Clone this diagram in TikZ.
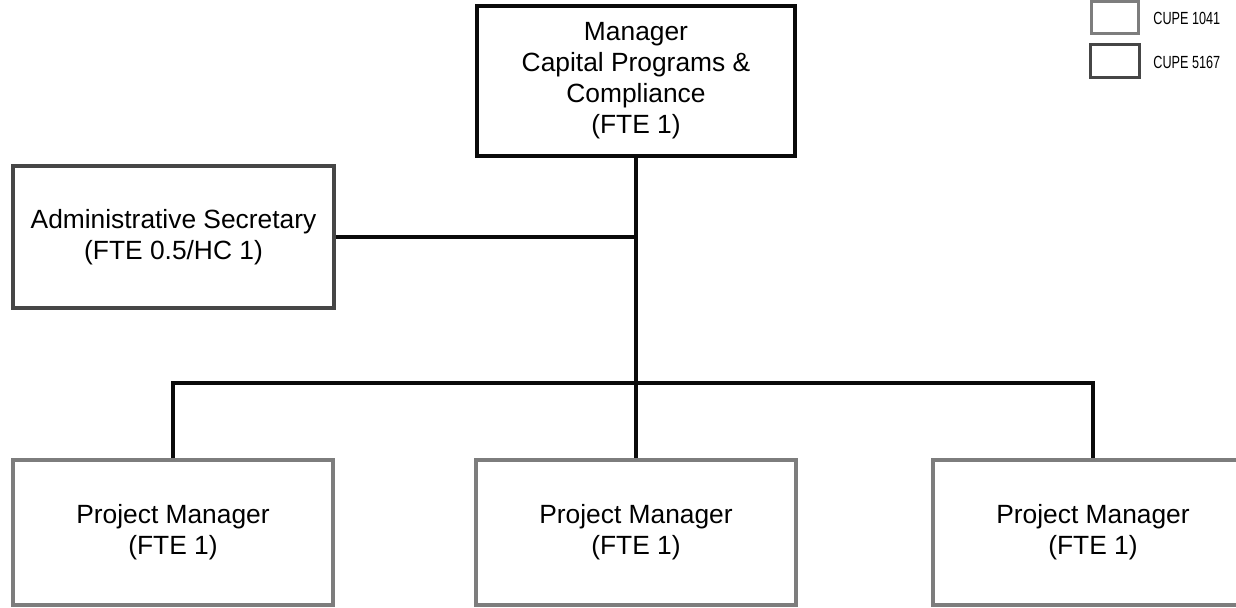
\documentclass[tikz,border=0pt]{standalone}
\usepackage{fontspec}
\setmainfont{Liberation Sans}
\newfontfamily\narrowfont[FakeStretch=0.72]{Liberation Sans}
\usetikzlibrary{positioning}
\definecolor{cupe-a}{RGB}{125,125,125}
\definecolor{cupe-b}{RGB}{70,70,70}
\definecolor{line-draw}{RGB}{10,10,10}

\begin{document}
\begin{tikzpicture}[
 role/.style={draw=cupe-a, line width=1.9pt, minimum width=6.4cm, minimum height=2.9cm, align=center, font=\fontsize{15}{17.6}\selectfont, inner sep=0},
 head/.style={role, draw=line-draw, line width=2.4pt},
 lgd/.style={draw=cupe-a, line width=1.7pt, minimum width=0.94cm, minimum height=0.64cm, inner sep=0},
 lgdtxt/.style={font=\narrowfont\fontsize{10}{12}\selectfont, anchor=west, inner sep=0},
 link/.style={line-draw, line width=2.2pt},
]
 \useasboundingbox (0,0) rectangle (24.72,12.16);
 %
 \node[head, minimum width=6.36cm, minimum height=3.0cm] (mgr) at (12.72,10.54) {Manager\\Capital Programs \&\\Compliance\\(FTE 1)};
 \node[role, draw=cupe-b, minimum width=6.42cm, minimum height=2.84cm] (admin) at (3.47,7.42) {Administrative Secretary\\(FTE 0.5/HC 1)};
 %
 \node[role] (pm1) at (3.46,1.51) {Project Manager\\(FTE 1)};
 \node[role] (pm2) at (12.72,1.51) {Project Manager\\(FTE 1)};
 \node[role] (pm3) at (21.86,1.51) {Project Manager\\(FTE 1)};
 %
 \coordinate (bus) at (12.72,4.5);
 \draw[link] (mgr.south) -- (pm2.north);
 \draw[link] (admin.east) -- (admin.east -| mgr.south);
 \draw[link] (pm1.north) |- (bus) -| (pm3.north);
 %
 \node[lgd] (key1) at (22.29,11.8) {};
 \node[lgd, draw=cupe-b, minimum width=0.98cm, minimum height=0.66cm] (key2) at (22.29,10.93) {};
 \node[lgdtxt] at (23.06,11.8) {CUPE 1041};
 \node[lgdtxt] at (23.06,10.92) {CUPE 5167};
\end{tikzpicture}
\end{document}
